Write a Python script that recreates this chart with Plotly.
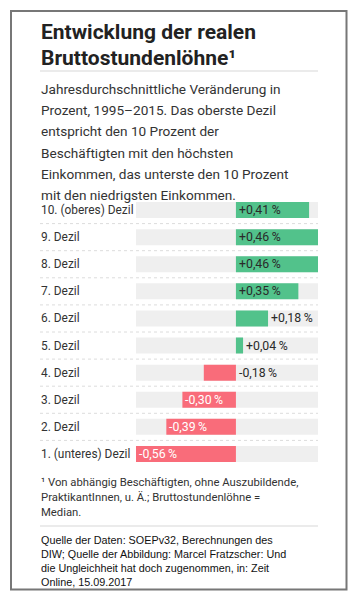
import plotly.graph_objects as go

W, H = 357, 597

categories = ["10. (oberes) Dezil", "9. Dezil", "8. Dezil", "7. Dezil", "6. Dezil",
              "5. Dezil", "4. Dezil", "3. Dezil", "2. Dezil", "1. (unteres) Dezil"]
values = [0.41, 0.46, 0.46, 0.35, 0.18, 0.04, -0.18, -0.30, -0.39, -0.56]

title_lines = ["Entwicklung der realen", "Bruttostundenlöhne¹"]
subtitle_lines = ["Jahresdurchschnittliche Veränderung in",
                  "Prozent, 1995–2015. Das oberste Dezil",
                  "entspricht den 10 Prozent der",
                  "Beschäftigten mit den höchsten",
                  "Einkommen, das unterste den 10 Prozent",
                  "mit den niedrigsten Einkommen."]
footnote_lines = ["¹ Von abhängig Beschäftigten, ohne Auszubildende,",
                  "PraktikantInnen, u. Ä.; Bruttostundenlöhne =",
                  "Median."]
source_lines = ["Quelle der Daten: SOEPv32, Berechnungen des",
                "DIW; Quelle der Abbildung: Marcel Fratzscher: Und",
                "die Ungleichheit hat doch zugenommen, in: Zeit",
                "Online, 15.09.2017"]

GREEN = "#52c28b"
RED = "#f96c7a"
TRACK = "#efefef"
FONT = "Roboto"

xmin, xmax = min(values), max(values)

def fmt(v):
    s = f"{abs(v):.2f}".replace(".", ",")
    return ("+" if v > 0 else "-") + s + "\u2009%"

fig = go.Figure()
# background tracks
fig.add_trace(go.Bar(
    y=categories, x=[xmax - xmin] * len(categories), base=[xmin] * len(categories),
    orientation="h", marker=dict(color=TRACK, line=dict(width=0)),
    hoverinfo="skip", showlegend=False))
# value bars
fig.add_trace(go.Bar(
    y=categories, x=values, orientation="h",
    marker=dict(color=[GREEN if v >= 0 else RED for v in values], line=dict(width=0)),
    showlegend=False))

px0, px1 = 136, 318
row_top, row_bot = 196.5, 467.5
fig.update_layout(
    width=W, height=H, margin=dict(l=0, r=0, t=0, b=0),
    paper_bgcolor="white", plot_bgcolor="white",
    barmode="overlay", bargap=0.41,
    xaxis=dict(domain=[px0 / W, px1 / W], range=[xmin, xmax], visible=False, fixedrange=True),
    yaxis=dict(domain=[1 - row_bot / H, 1 - row_top / H], autorange="reversed",
               visible=False, type="category", fixedrange=True),
    font=dict(family=FONT),
)

anns = []

def txt(text, xpx, ypx, size, color="#333", bold=False, family=FONT):
    anns.append(dict(text=text, xref="paper", yref="paper", x=xpx / W, y=1 - ypx / H,
                     xanchor="left", yanchor="middle", showarrow=False,
                     font=dict(size=size, color=color, family=family,
                               weight="bold" if bold else "normal")))

for i, t in enumerate(title_lines):
    txt(t, 39, 32 + 26 * i, 21, "#222", bold=True)
for i, t in enumerate(subtitle_lines):
    txt(t, 39, 89 + 21.2 * i, 13.6, "#333")
for i, t in enumerate(footnote_lines):
    txt(t, 39, 482 + 15 * i, 11.3, "#333")
for i, t in enumerate(source_lines):
    txt(t, 39, 540 + 14 * i, 10.8, "#111", family="Liberation Sans")

for c, v in zip(categories, values):
    anns.append(dict(text=c, xref="paper", yref="y", x=39 / W, y=c, xanchor="left",
                     yanchor="middle", showarrow=False,
                     font=dict(size=11.9, color="#333", family=FONT)))
    inside = abs(v) >= 0.30
    if v >= 0:
        xpos = 0 if inside else v
        col = "#2a2a2a"
    else:
        xpos = v if inside else 0
        col = "white" if inside else "#2a2a2a"
    anns.append(dict(text=fmt(v), xref="x", yref="y", x=xpos, y=c, xanchor="left",
                     yanchor="middle", showarrow=False, xshift=1,
                     font=dict(size=12.3, color=col, family=FONT)))

fig.update_layout(annotations=anns)

shapes = []
# outer frame
shapes.append(dict(type="rect", xref="paper", yref="paper", x0=11 / W, x1=346.5 / W,
                   y0=1 - 589.5 / H, y1=1 - 11 / H, line=dict(color="#777", width=2)))
# separators
for ypx in (71, 526):
    shapes.append(dict(type="line", xref="paper", yref="paper", x0=40 / W, x1=318 / W,
                       y0=1 - ypx / H, y1=1 - ypx / H, line=dict(color="#e4e4e4", width=1.5)))
# dotted row separators
for i in range(len(categories) - 1):
    shapes.append(dict(type="line", xref="paper", yref="y", x0=40 / W, x1=318 / W,
                       y0=i + 0.5, y1=i + 0.5, line=dict(color="#dcdcdc", width=1, dash="dot")))
fig.update_layout(shapes=shapes)

fig.write_html("out.html", config={"displayModeBar": False},
               post_script="document.body.style.margin='0';document.body.style.overflow='hidden';")
